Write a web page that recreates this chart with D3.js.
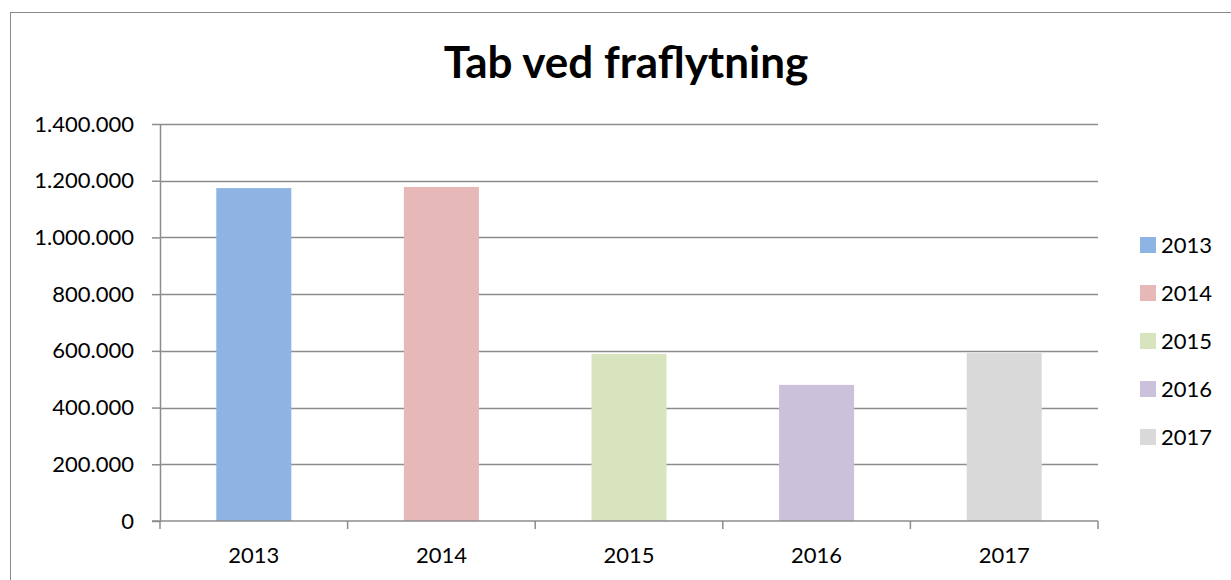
<!DOCTYPE html>
<html>
<head>
<meta charset="utf-8">
<script src="https://cdn.jsdelivr.net/npm/d3@7"></script>
<style>
  body { margin: 0; background: #fff; }
  text { font-family: Lato, "Open Sans", sans-serif; fill: #000; }
</style>
</head>
<body>
<script>
// chart data
var years = ["2013", "2014", "2015", "2016", "2017"]
var values = [1174000, 1178000, 589000, 480000, 592000]
var colors = ["#8EB4E3", "#E6B9B8", "#D7E4BD", "#CCC1DA", "#D9D9D9"]
var yTicks = [0, 200000, 400000, 600000, 800000, 1000000, 1200000, 1400000]

var w = 1231
var h = 580

var svg = d3.select("body")
            .append("svg")
            .attr("width", w)
            .attr("height", h)

// outer chart frame (cut off at right and bottom)
svg.append("rect")
   .attr("x", 10.5)
   .attr("y", 12.5)
   .attr("width", w)
   .attr("height", h)
   .attr("fill", "none")
   .attr("stroke", "#898989")
   .attr("stroke-width", 1)

// title
svg.append("text")
   .attr("x", 626)
   .attr("y", 78)
   .attr("text-anchor", "middle")
   .style("font-size", "44px")
   .style("font-weight", "bold")
   .text("Tab ved fraflytning")

var plotL = 160, plotR = 1098, plotT = 124, plotB = 521

var xScale = d3.scaleBand()
  .domain(years)
  .range([plotL, plotR])
  .paddingInner(0.6)
  .paddingOuter(0.3)

var xTickScale = d3.scaleBand().domain(years).range([plotL, plotR])

var yScale = d3.scaleLinear()
  .domain([0, 1400000])
  .range([plotB, plotT])

var fmt = function(d) {
  return d3.format(",")(d).replace(/,/g, ".")
}

// gridlines
svg.append("g")
   .selectAll("line")
   .data(yTicks.filter(d => d > 0))
   .enter()
   .append("line")
   .attr("x1", plotL)
   .attr("x2", plotR)
   .attr("y1", d => Math.round(yScale(d)) + 0.5)
   .attr("y2", d => Math.round(yScale(d)) + 0.5)
   .attr("stroke", "#8c8c8c")
   .attr("stroke-width", 1.5)

// bars
svg.selectAll(".bar")
   .data(values)
   .enter()
   .append("rect")
   .attr("class", "bar")
   .attr("x", (d, i) => xScale(years[i]))
   .attr("width", xScale.bandwidth())
   .attr("y", d => yScale(d))
   .attr("height", d => plotB - yScale(d))
   .attr("fill", (d, i) => colors[i])

// y axis
var yAxis = d3.axisLeft(yScale)
  .tickValues(yTicks)
  .tickFormat(fmt)
  .tickSize(8)
  .tickSizeOuter(0)
  .tickPadding(18)
var gy = svg.append("g")
   .attr("transform", "translate(" + plotL + ",0)")
   .call(yAxis)
gy.selectAll("line").attr("stroke", "#8c8c8c").attr("stroke-width", 1.5)
gy.select(".domain").attr("stroke", "#8c8c8c").attr("stroke-width", 1.5)
gy.selectAll("text").style("font-size", "22px").attr("fill", "#000")

// x axis, ticks between categories
var gx = svg.append("g")
   .attr("transform", "translate(0," + plotB + ")")
gx.append("line")
  .attr("x1", plotL - 8)
  .attr("x2", plotR)
  .attr("stroke", "#8c8c8c")
  .attr("stroke-width", 1.5)
var edges = years.map(d => xTickScale(d)).concat([plotR])
gx.selectAll(".tk")
  .data(edges)
  .enter()
  .append("line")
  .attr("class", "tk")
  .attr("x1", d => d)
  .attr("x2", d => d)
  .attr("y1", 0)
  .attr("y2", 8)
  .attr("stroke", "#8c8c8c")
  .attr("stroke-width", 1.5)
gx.selectAll(".lbl")
  .data(years)
  .enter()
  .append("text")
  .attr("class", "lbl")
  .attr("x", d => xTickScale(d) + xTickScale.bandwidth() / 2)
  .attr("y", 42)
  .attr("text-anchor", "middle")
  .style("font-size", "22px")
  .text(d => d)

// legend
var legend = svg.append("g")
  .selectAll("g")
  .data(years)
  .enter()
  .append("g")
  .attr("transform", (d, i) => "translate(1140," + (237 + i * 48) + ")")
legend.append("rect")
  .attr("width", 16)
  .attr("height", 16)
  .attr("fill", (d, i) => colors[i])
legend.append("text")
  .attr("x", 21)
  .attr("y", 16)
  .style("font-size", "22px")
  .text(d => d)
</script>
</body>
</html>
